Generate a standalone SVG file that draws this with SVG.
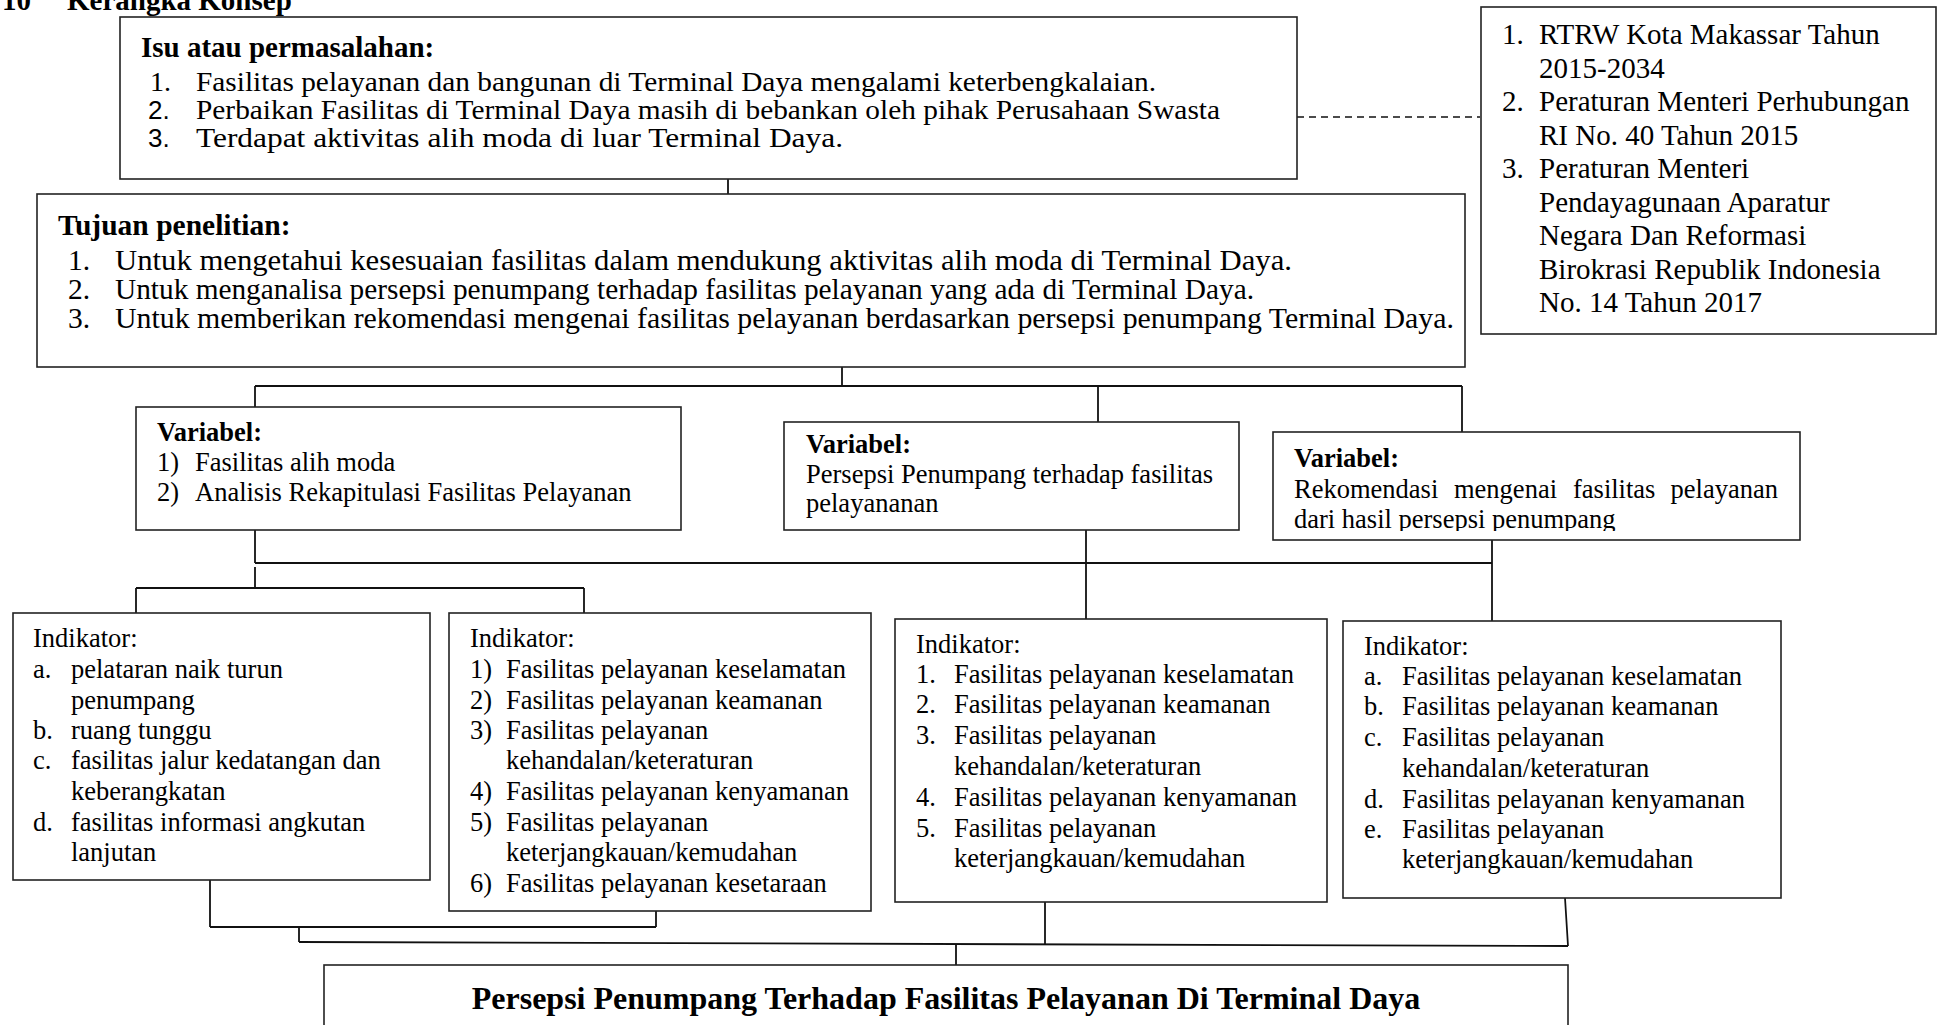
<svg xmlns="http://www.w3.org/2000/svg" width="1939" height="1025" viewBox="0 0 1939 1025">
<style>
.box{fill:#fff;stroke:#222;stroke-width:1.6}
.t{font-family:"Liberation Serif","Times New Roman",serif;fill:#000}
.b{font-weight:bold}
.s28{font-size:28px}
.s29{font-size:29px}
.s30{font-size:29.5px}
.s26{font-size:26.5px}
.sans{font-family:"Liberation Sans",Arial,sans-serif;font-size:26px;fill:#000}
.c{fill:none;stroke:#111;stroke-width:1.8}
.d{fill:none;stroke:#111;stroke-width:1.6;stroke-dasharray:7 5}
</style>
<defs>
<clipPath id="clipV3"><rect x="1273" y="432" width="527" height="99"/></clipPath>
</defs>
<text class="t b s29" x="2" y="10">10</text>
<text class="t b s29" x="67" y="10">Kerangka Konsep</text>

<g id="connectors">
<line class="c" x1="728" y1="179" x2="728" y2="194"/>
<line class="d" x1="1297" y1="117" x2="1480" y2="117"/>
<line class="c" x1="842" y1="367" x2="842" y2="386"/>
<line class="c" x1="255" y1="386" x2="1462" y2="386"/>
<line class="c" x1="255" y1="386" x2="255" y2="407"/>
<line class="c" x1="1098" y1="386" x2="1098" y2="422"/>
<line class="c" x1="1462" y1="386" x2="1462" y2="432"/>
<line class="c" x1="255" y1="530" x2="255" y2="563"/>
<line class="c" x1="255" y1="563" x2="1492" y2="563"/>
<line class="c" x1="1086" y1="530" x2="1086" y2="619"/>
<line class="c" x1="1492" y1="540" x2="1492" y2="621"/>
<line class="c" x1="255" y1="567" x2="255" y2="588"/>
<line class="c" x1="136" y1="588" x2="584" y2="588"/>
<line class="c" x1="136" y1="588" x2="136" y2="613"/>
<line class="c" x1="584" y1="588" x2="584" y2="613"/>
<line class="c" x1="210" y1="880" x2="210" y2="927"/>
<line class="c" x1="656" y1="911" x2="656" y2="927"/>
<line class="c" x1="210" y1="927" x2="656" y2="927"/>
<line class="c" x1="299" y1="927" x2="299" y2="942"/>
<line class="c" x1="299" y1="942" x2="1568" y2="946"/>
<line class="c" x1="1045" y1="902" x2="1045" y2="945"/>
<line class="c" x1="1565" y1="898" x2="1568" y2="946"/>
<line class="c" x1="956" y1="945" x2="956" y2="965"/>
</g>

<g id="isu">
<rect class="box" x="120" y="17" width="1177" height="162"/>
<text class="t b s29" x="141" y="57">Isu atau permasalahan:</text>
<text class="t s28" x="150" y="91">1.</text>
<text class="t s28" x="196" y="91" textLength="960" lengthAdjust="spacingAndGlyphs">Fasilitas pelayanan dan bangunan di Terminal Daya mengalami keterbengkalaian.</text>
<text class="sans" x="148" y="119">2.</text>
<text class="t s28" x="196" y="119" textLength="1024" lengthAdjust="spacingAndGlyphs">Perbaikan Fasilitas di Terminal Daya masih di bebankan oleh pihak Perusahaan Swasta</text>
<text class="sans" x="148" y="147">3.</text>
<text class="t s28" x="196" y="147" textLength="647" lengthAdjust="spacingAndGlyphs">Terdapat aktivitas alih moda di luar Terminal Daya.</text>
</g>

<g id="regulasi">
<rect class="box" x="1481" y="7" width="455" height="327"/>
<text class="t s29" x="1502" y="44">1.</text>
<text class="t s29" x="1539" y="44">RTRW Kota Makassar Tahun</text>
<text class="t s29" x="1539" y="77.5">2015-2034</text>
<text class="t s29" x="1502" y="111">2.</text>
<text class="t s29" x="1539" y="111">Peraturan Menteri Perhubungan</text>
<text class="t s29" x="1539" y="144.5">RI No. 40 Tahun 2015</text>
<text class="t s29" x="1502" y="178">3.</text>
<text class="t s29" x="1539" y="178">Peraturan Menteri</text>
<text class="t s29" x="1539" y="211.5">Pendayagunaan Aparatur</text>
<text class="t s29" x="1539" y="245">Negara Dan Reformasi</text>
<text class="t s29" x="1539" y="278.5">Birokrasi Republik Indonesia</text>
<text class="t s29" x="1539" y="312">No. 14 Tahun 2017</text>
</g>

<g id="tujuan">
<rect class="box" x="37" y="194" width="1428" height="173"/>
<text class="t b s30" x="58" y="235">Tujuan penelitian:</text>
<text class="t s30" x="68" y="270">1.</text>
<text class="t s30" x="115" y="270" textLength="1177" lengthAdjust="spacingAndGlyphs">Untuk mengetahui kesesuaian fasilitas dalam mendukung aktivitas alih moda di Terminal Daya.</text>
<text class="t s30" x="68" y="299">2.</text>
<text class="t s30" x="115" y="299" textLength="1139" lengthAdjust="spacingAndGlyphs">Untuk menganalisa persepsi penumpang terhadap fasilitas pelayanan yang ada di Terminal Daya.</text>
<text class="t s30" x="68" y="328">3.</text>
<text class="t s30" x="115" y="328" textLength="1339" lengthAdjust="spacingAndGlyphs">Untuk memberikan rekomendasi mengenai fasilitas pelayanan berdasarkan persepsi penumpang Terminal Daya.</text>
</g>

<g id="variabel1">
<rect class="box" x="136" y="407" width="545" height="123"/>
<text class="t b s26" x="157" y="441">Variabel:</text>
<text class="t s26" x="157" y="471">1)</text>
<text class="t s26" x="195" y="471">Fasilitas alih moda</text>
<text class="t s26" x="157" y="501">2)</text>
<text class="t s26" x="195" y="501">Analisis Rekapitulasi Fasilitas Pelayanan</text>
</g>

<g id="variabel2">
<rect class="box" x="784" y="422" width="455" height="108"/>
<text class="t b s26" x="806" y="453">Variabel:</text>
<text class="t s26" x="806" y="483">Persepsi Penumpang terhadap fasilitas</text>
<text class="t s26" x="806" y="512">pelayananan</text>
</g>

<g id="variabel3">
<rect class="box" x="1273" y="432" width="527" height="108"/>
<text class="t b s26" x="1294" y="467">Variabel:</text>
<text class="t s26" y="498"><tspan x="1294">Rekomendasi</tspan><tspan x="1454">mengenai</tspan><tspan x="1573">fasilitas</tspan></text>
<text class="t s26" x="1778" y="498" text-anchor="end">pelayanan</text>
<text class="t s26" x="1294" y="528" clip-path="url(#clipV3)">dari hasil persepsi penumpang</text>
</g>

<g id="indikator1">
<rect class="box" x="13" y="613" width="417" height="267"/>
<text class="t s26" x="33" y="647">Indikator:</text>
<text class="t s26" x="33" y="678">a.</text>
<text class="t s26" x="71" y="678">pelataran naik turun</text>
<text class="t s26" x="71" y="709">penumpang</text>
<text class="t s26" x="33" y="739">b.</text>
<text class="t s26" x="71" y="739">ruang tunggu</text>
<text class="t s26" x="33" y="769">c.</text>
<text class="t s26" x="71" y="769">fasilitas jalur kedatangan dan</text>
<text class="t s26" x="71" y="800">keberangkatan</text>
<text class="t s26" x="33" y="831">d.</text>
<text class="t s26" x="71" y="831">fasilitas informasi angkutan</text>
<text class="t s26" x="71" y="861">lanjutan</text>
</g>

<g id="indikator2">
<rect class="box" x="449" y="613" width="422" height="298"/>
<text class="t s26" x="470" y="647">Indikator:</text>
<text class="t s26" x="470" y="678">1)</text>
<text class="t s26" x="506" y="678">Fasilitas pelayanan keselamatan</text>
<text class="t s26" x="470" y="709">2)</text>
<text class="t s26" x="506" y="709">Fasilitas pelayanan keamanan</text>
<text class="t s26" x="470" y="739">3)</text>
<text class="t s26" x="506" y="739">Fasilitas pelayanan</text>
<text class="t s26" x="506" y="769">kehandalan/keteraturan</text>
<text class="t s26" x="470" y="800">4)</text>
<text class="t s26" x="506" y="800">Fasilitas pelayanan kenyamanan</text>
<text class="t s26" x="470" y="831">5)</text>
<text class="t s26" x="506" y="831">Fasilitas pelayanan</text>
<text class="t s26" x="506" y="861">keterjangkauan/kemudahan</text>
<text class="t s26" x="470" y="892">6)</text>
<text class="t s26" x="506" y="892">Fasilitas pelayanan kesetaraan</text>
</g>

<g id="indikator3">
<rect class="box" x="895" y="619" width="432" height="283"/>
<text class="t s26" x="916" y="653">Indikator:</text>
<text class="t s26" x="916" y="683">1.</text>
<text class="t s26" x="954" y="683">Fasilitas pelayanan keselamatan</text>
<text class="t s26" x="916" y="713">2.</text>
<text class="t s26" x="954" y="713">Fasilitas pelayanan keamanan</text>
<text class="t s26" x="916" y="744">3.</text>
<text class="t s26" x="954" y="744">Fasilitas pelayanan</text>
<text class="t s26" x="954" y="775">kehandalan/keteraturan</text>
<text class="t s26" x="916" y="806">4.</text>
<text class="t s26" x="954" y="806">Fasilitas pelayanan kenyamanan</text>
<text class="t s26" x="916" y="837">5.</text>
<text class="t s26" x="954" y="837">Fasilitas pelayanan</text>
<text class="t s26" x="954" y="867">keterjangkauan/kemudahan</text>
</g>

<g id="indikator4">
<rect class="box" x="1343" y="621" width="438" height="277"/>
<text class="t s26" x="1364" y="655">Indikator:</text>
<text class="t s26" x="1364" y="685">a.</text>
<text class="t s26" x="1402" y="685">Fasilitas pelayanan keselamatan</text>
<text class="t s26" x="1364" y="715">b.</text>
<text class="t s26" x="1402" y="715">Fasilitas pelayanan keamanan</text>
<text class="t s26" x="1364" y="746">c.</text>
<text class="t s26" x="1402" y="746">Fasilitas pelayanan</text>
<text class="t s26" x="1402" y="777">kehandalan/keteraturan</text>
<text class="t s26" x="1364" y="808">d.</text>
<text class="t s26" x="1402" y="808">Fasilitas pelayanan kenyamanan</text>
<text class="t s26" x="1364" y="838">e.</text>
<text class="t s26" x="1402" y="838">Fasilitas pelayanan</text>
<text class="t s26" x="1402" y="868">keterjangkauan/kemudahan</text>
</g>

<g id="hasil">
<rect class="box" x="324" y="965" width="1244" height="80"/>
<text class="t b" font-size="32" x="946" y="1009" text-anchor="middle">Persepsi Penumpang Terhadap Fasilitas Pelayanan Di Terminal Daya</text>
</g>
</svg>
